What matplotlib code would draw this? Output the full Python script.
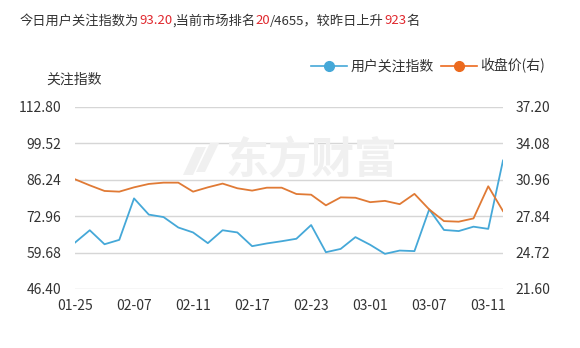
import matplotlib
matplotlib.use("Agg")
import matplotlib.pyplot as plt
from matplotlib.patches import Polygon
from matplotlib.lines import Line2D

plt.rcParams['font.family'] = ['Noto Sans CJK SC', 'DejaVu Sans']

# trading days
dates = ["01-25", "01-26", "01-27", "01-28", "02-07", "02-08", "02-09", "02-10",
         "02-11", "02-14", "02-15", "02-16", "02-17", "02-18", "02-21", "02-22",
         "02-23", "02-24", "02-25", "02-28", "03-01", "03-02", "03-03", "03-04",
         "03-07", "03-08", "03-09", "03-10", "03-11", "03-14"]

# user attention index (left axis)
attention = [63.3, 67.8, 62.7, 64.3, 79.4, 73.5, 72.6, 68.8, 67.0, 63.1,
             67.8, 67.0, 62.0, 63.0, 63.8, 64.7, 69.7, 59.8, 61.0, 65.3,
             62.5, 59.2, 60.4, 60.2, 75.4, 67.9, 67.5, 69.1, 68.3, 93.2]

# closing price (right axis)
close = [30.99, 30.47, 29.99, 29.93, 30.30, 30.59, 30.70, 30.70, 29.93, 30.30,
         30.62, 30.22, 30.02, 30.27, 30.27, 29.73, 29.67, 28.76, 29.44, 29.41,
         29.03, 29.14, 28.86, 29.74, 28.41, 27.41, 27.36, 27.64, 30.39, 28.27]

left_ticks = [46.40, 59.68, 72.96, 86.24, 99.52, 112.80]
right_ticks = [21.60, 24.72, 27.84, 30.96, 34.08, 37.20]
label_dates = ["01-25", "02-07", "02-11", "02-17", "02-23", "03-01", "03-07", "03-11"]

BLUE = "#45a8d8"
ORANGE = "#e07a35"
RED = "#e0282e"
TXT = "#333333"
GRID = "#d6d6d6"

W, H = 580, 348
fig = plt.figure(figsize=(W / 100, H / 100), dpi=100)
ax = fig.add_axes([75 / W, 1 - 289 / H, (503 - 75) / W, (289 - 106.7) / H])
ax2 = ax.twinx()

x = list(range(len(dates)))

# watermark
fig.text(312 / W, 1 - 160 / H, "东方财富", fontsize=31, fontweight="bold",
         color="#f0f0f0", ha="center", va="center", zorder=0, style="italic")
for pts in ([(196, 147), (206, 147), (193, 175), (183, 175)],
            [(210, 143), (219, 143), (205, 172), (196, 172)]):
    fig.patches.append(Polygon([(px / W, 1 - py / H) for px, py in pts],
                               closed=True, transform=fig.transFigure,
                               facecolor="#f0f0f0", edgecolor="none", zorder=0))

ax.set_ylim(left_ticks[0], left_ticks[-1])
ax2.set_ylim(right_ticks[0], right_ticks[-1])
ax.set_xlim(0, len(dates) - 1)

ax.set_yticks(left_ticks)
ax.set_yticklabels([f"{v:.2f}" for v in left_ticks])
ax2.set_yticks(right_ticks)
ax2.set_yticklabels([f"{v:.2f}" for v in right_ticks])

tick_pos = [dates.index(d) for d in label_dates]
ax.set_xticks(tick_pos)
ax.set_xticklabels(label_dates)

ax.grid(axis="y", color=GRID, linewidth=1.0)
ax.set_axisbelow(True)
for a in (ax, ax2):
    for s in a.spines.values():
        s.set_visible(False)
    a.tick_params(length=0, colors=TXT, labelsize=10)
    a.patch.set_visible(False)
ax.tick_params(axis="y", pad=10)
ax2.tick_params(axis="y", pad=9)
ax.tick_params(axis="x", pad=7)

ax.plot(x, attention, color=BLUE, linewidth=1.3, zorder=3)
ax2.plot(x, close, color=ORANGE, linewidth=1.3, zorder=3)

# axis title
fig.text(74 / W, 1 - 80 / H, "关注指数", fontsize=10, color=TXT,
         ha="center", va="center")

# legend
handles = [Line2D([], [], color=BLUE, marker="o", markersize=7, linewidth=1.2),
           Line2D([], [], color="#ec6a1e", marker="o", markersize=7, linewidth=1.2)]
fig.legend(handles, ["用户关注指数", "收盘价(右)"], loc="center",
           bbox_to_anchor=(428 / W, 1 - 66 / H), ncol=2, frameon=False,
           fontsize=10, labelcolor=TXT, handlelength=2.6, handletextpad=0.25,
           columnspacing=0.5)

# headline with highlighted numbers
parts = [("今日用户关注指数为", TXT), ("93.20", RED), (",当前市场排名", TXT),
         ("20", RED), ("/4655，较昨日上升", TXT), ("923", RED), ("名", TXT)]
renderer = fig.canvas.get_renderer()
xpos = 20
for s, c in parts:
    t = fig.text(xpos / W, 1 - 21 / H, s, fontsize=9.5, color=c,
                 ha="left", va="center")
    xpos += t.get_window_extent(renderer).width

fig.savefig("out.png", dpi=100)
